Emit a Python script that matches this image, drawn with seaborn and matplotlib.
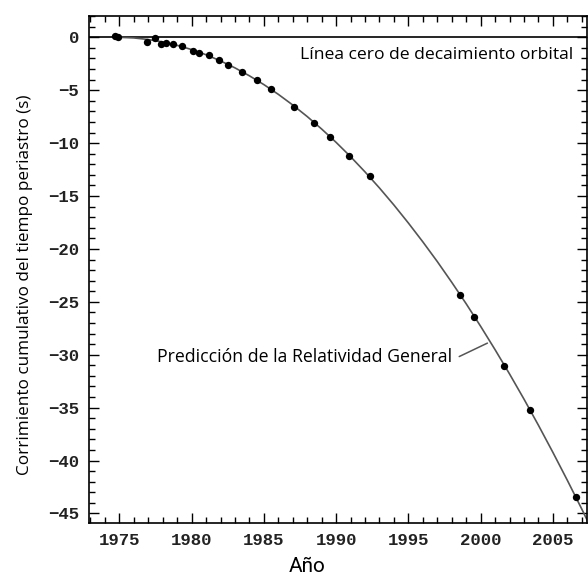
import numpy as np
import pandas as pd
import matplotlib
matplotlib.use("Agg")
import matplotlib.pyplot as plt
import seaborn as sns
from matplotlib.ticker import MultipleLocator

obs_year = [1974.7, 1974.9, 1976.9, 1977.5, 1977.85, 1978.2, 1978.7, 1979.3,
            1980.1, 1980.5, 1981.2, 1981.9, 1982.55, 1983.5, 1984.5, 1985.5,
            1987.1, 1988.5, 1989.6, 1990.9, 1992.35, 1998.54, 1999.57,
            2001.62, 2003.41, 2006.57]
obs_shift = [0.1, 0.05, -0.4, -0.07, -0.6, -0.5, -0.65, -0.87,
             -1.3, -1.44, -1.72, -2.19, -2.6, -3.29, -4.02, -4.9,
             -6.6, -8.1, -9.43, -11.2, -13.15, -24.34, -26.39,
             -31.05, -35.2, -43.46]

# general relativity prediction curve (yearly)
gr_year = [1974.8, 1975, 1976, 1977, 1978, 1979, 1980, 1981, 1982, 1983,
           1984, 1985, 1986, 1987, 1988, 1989, 1990, 1991, 1992, 1993,
           1994, 1995, 1996, 1997, 1998, 1999, 2000, 2001, 2002, 2003,
           2004, 2005, 2006, 2007, 2008]
gr_shift = [0.0, 0.0, -0.06, -0.21, -0.44, -0.76, -1.16, -1.65, -2.23, -2.89,
            -3.64, -4.47, -5.39, -6.4, -7.49, -8.67, -9.93, -11.28, -12.72, -14.24,
            -15.85, -17.55, -19.33, -21.19, -23.15, -25.18, -27.31, -29.52, -31.81, -34.19,
            -36.66, -39.22, -41.86, -44.58, -47.4]

obs = pd.DataFrame({"year": obs_year, "shift": obs_shift})
gr = pd.DataFrame({"year": gr_year, "shift": gr_shift})

sns.set_theme(style="ticks")
plt.rcParams["font.family"] = ["Open Sans", "DejaVu Sans"]

fig = plt.figure(figsize=(5.88, 5.76), dpi=100)
ax = fig.add_axes([0.1514, 0.092, 0.8466, 0.880])

ax.axhline(0, color="black", lw=1.2, zorder=1)
sns.lineplot(data=gr, x="year", y="shift", ax=ax, color="#555555", lw=1.2,
             sort=False, zorder=2)
sns.scatterplot(data=obs, x="year", y="shift", ax=ax, color="black", s=28,
                edgecolor="black", linewidth=0, zorder=3)

ax.set_xlim(1972.9, 2007.35)
ax.set_ylim(-45.9, 2.0)
ax.xaxis.set_major_locator(MultipleLocator(5))
ax.xaxis.set_minor_locator(MultipleLocator(1))
ax.yaxis.set_major_locator(MultipleLocator(5))
ax.yaxis.set_minor_locator(MultipleLocator(1))
ax.tick_params(which="both", direction="in", top=True, right=True,
               color="black", width=1)
ax.tick_params(which="major", length=7.5)
ax.tick_params(which="minor", length=4)
ax.tick_params(axis="x", pad=7)
ax.tick_params(axis="y", pad=7)
for lab in ax.get_xticklabels() + ax.get_yticklabels():
    lab.set_family(["Liberation Mono", "DejaVu Sans Mono"])
    lab.set_fontweight("bold")
    lab.set_fontsize(12.5)
    lab.set_color("#222222")
for sp in ax.spines.values():
    sp.set_linewidth(1.2)
    sp.set_color("black")

ax.set_xlabel("")
ax.set_ylabel("")
fig.text(307.5 / 588, 1 - 566 / 576, "Año", ha="center", va="center",
         fontsize=15, family=["Roboto", "DejaVu Sans"], color="black")
fig.text(25 / 588, 1 - 285 / 576, "Corrimiento cumulativo del tiempo periastro (s)",
         ha="center", va="center", rotation=90, fontsize=12.3, color="black")

ax.text(1987.5, -1.65, "Línea cero de decaimiento orbital", ha="left",
        va="center", fontsize=12.6, color="black")
ax.text(1998.0, -30.2, "Predicción de la Relatividad General", ha="right",
        va="center", fontsize=12.7, color="black")
ax.plot([1998.52, 2000.47], [-30.17, -28.9], color="#555555", lw=1.1)

fig.savefig("out.png", dpi=100)
